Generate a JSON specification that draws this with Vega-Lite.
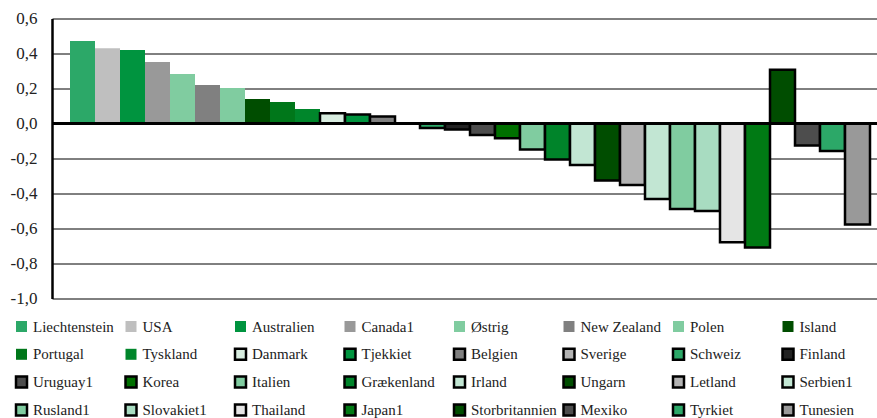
{
  "$schema": "https://vega.github.io/schema/vega-lite/v6.json",
  "width": 825,
  "height": 280,
  "autosize": {"type": "none"},
  "padding": {"left": 52, "top": 18.5, "right": 0, "bottom": 119.5},
  "background": "white",
  "config": {
    "view": {"stroke": null},
    "font": "Liberation Serif",
    "legend": {"labelFont": "Liberation Serif", "labelFontSize": 15},
    "axis": {"labelFont": "Liberation Serif"}
  },
  "data": {
    "values": [
      {"country": "Liechtenstein", "value": 0.471},
      {"country": "USA", "value": 0.43},
      {"country": "Australien", "value": 0.42},
      {"country": "Canada1", "value": 0.351},
      {"country": "Østrig", "value": 0.283},
      {"country": "New Zealand", "value": 0.22},
      {"country": "Polen", "value": 0.203},
      {"country": "Island", "value": 0.14},
      {"country": "Portugal", "value": 0.123},
      {"country": "Tyskland", "value": 0.083},
      {"country": "Danmark", "value": 0.059},
      {"country": "Tjekkiet", "value": 0.051},
      {"country": "Belgien", "value": 0.04},
      {"country": "Sverige", "value": 0.0},
      {"country": "Schweiz", "value": -0.026},
      {"country": "Finland", "value": -0.034},
      {"country": "Uruguay1", "value": -0.066},
      {"country": "Korea", "value": -0.084},
      {"country": "Italien", "value": -0.149},
      {"country": "Grækenland", "value": -0.206},
      {"country": "Irland", "value": -0.237},
      {"country": "Ungarn", "value": -0.326},
      {"country": "Letland", "value": -0.351},
      {"country": "Serbien1", "value": -0.431},
      {"country": "Rusland1", "value": -0.489},
      {"country": "Slovakiet1", "value": -0.5},
      {"country": "Thailand", "value": -0.678},
      {"country": "Japan1", "value": -0.709},
      {"country": "Storbritannien", "value": 0.307},
      {"country": "Mexiko", "value": -0.126},
      {"country": "Tyrkiet", "value": -0.157},
      {"country": "Tunesien", "value": -0.577}
    ]
  },
  "layer": [
    {
      "mark": {"type": "bar", "strokeWidth": 2.5, "strokeJoin": "miter"},
      "encoding": {
        "x": {
          "field": "country",
          "type": "nominal",
          "sort": null,
          "axis": null,
          "scale": {"paddingInner": 0, "paddingOuter": 0.5, "align": 0.72}
        },
        "y": {
          "field": "value",
          "type": "quantitative",
          "scale": {"domain": [-1, 0.6], "nice": false, "zero": false},
          "axis": {
            "title": null,
            "values": [-1, -0.8, -0.6, -0.4, -0.2, 0, 0.2, 0.4, 0.6],
            "tickCount": 20,
            "labelExpr": "replace(replace(format(datum.value, '.1f'), '.', ','), '\u2212', '-')",
            "labelFont": "Liberation Serif",
            "labelFontSize": 17,
            "labelColor": "#222222",
            "labelPadding": 15,
            "labelOverlap": false,
            "labelBound": false,
            "labelFlush": false,
            "ticks": false,
            "domainColor": "black",
            "domainWidth": 2.5,
            "gridColor": "black",
            "gridWidth": 1,
            "grid": true
          }
        },
        "fill": {
          "field": "country",
          "type": "nominal",
          "scale": {
            "domain": ["Liechtenstein","USA","Australien","Canada1","Østrig","New Zealand","Polen","Island","Portugal","Tyskland","Danmark","Tjekkiet","Belgien","Sverige","Schweiz","Finland","Uruguay1","Korea","Italien","Grækenland","Irland","Ungarn","Letland","Serbien1","Rusland1","Slovakiet1","Thailand","Japan1","Storbritannien","Mexiko","Tyrkiet","Tunesien"],
            "range": ["#2CA868","#BFBFBF","#00943F","#999999","#80CCA0","#808080","#80CCA0","#004D00","#00771A","#00862B","#D8EDE0","#00943F","#808080","#B3B3B3","#2CA868","#222222","#4D4D4D","#007000","#80CCA0","#00842A","#C2E6D3","#004D00","#B3B3B3","#C2E6D3","#80CCA0","#A8DCC1","#E5E5E5","#007A14","#004D00","#4D4D4D","#2CA868","#999999"]
          },
          "legend": {
            "title": null,
            "orient": "none",
            "direction": "horizontal",
            "legendX": -38,
            "legendY": 300.5,
            "columns": 8,
            "gridAlign": "all",
            "columnPadding": 1.5,
            "rowPadding": 6.8,
            "symbolLimit": 0,
            "symbolType": "square",
            "symbolSize": 121,
            "symbolStrokeWidth": 2.5,
            "labelFont": "Liberation Serif",
            "labelFontSize": 15,
            "labelColor": "#222222",
            "labelOffset": 4,
            "labelLimit": 200
          }
        },
        "stroke": {
          "field": "country",
          "type": "nominal",
          "scale": {
            "domain": ["Liechtenstein","USA","Australien","Canada1","Østrig","New Zealand","Polen","Island","Portugal","Tyskland","Danmark","Tjekkiet","Belgien","Sverige","Schweiz","Finland","Uruguay1","Korea","Italien","Grækenland","Irland","Ungarn","Letland","Serbien1","Rusland1","Slovakiet1","Thailand","Japan1","Storbritannien","Mexiko","Tyrkiet","Tunesien"],
            "range": ["transparent","transparent","transparent","transparent","transparent","transparent","transparent","transparent","transparent","transparent","black","black","black","black","black","black","black","black","black","black","black","black","black","black","black","black","black","black","black","black","black","black"]
          },
          "legend": {
            "title": null,
            "orient": "none",
            "direction": "horizontal",
            "legendX": -38,
            "legendY": 300.5,
            "columns": 8,
            "gridAlign": "all",
            "columnPadding": 1.5,
            "rowPadding": 6.8,
            "symbolLimit": 0,
            "symbolType": "square",
            "symbolSize": 121,
            "symbolStrokeWidth": 2.5,
            "labelFont": "Liberation Serif",
            "labelFontSize": 15,
            "labelColor": "#222222",
            "labelOffset": 4,
            "labelLimit": 200
          }
        }
      }
    },
    {
      "data": {"values": [{"zero": 0}]},
      "mark": {"type": "rule", "color": "black", "strokeWidth": 3},
      "encoding": {
        "y": {"field": "zero", "type": "quantitative"}
      }
    }
  ]
}
